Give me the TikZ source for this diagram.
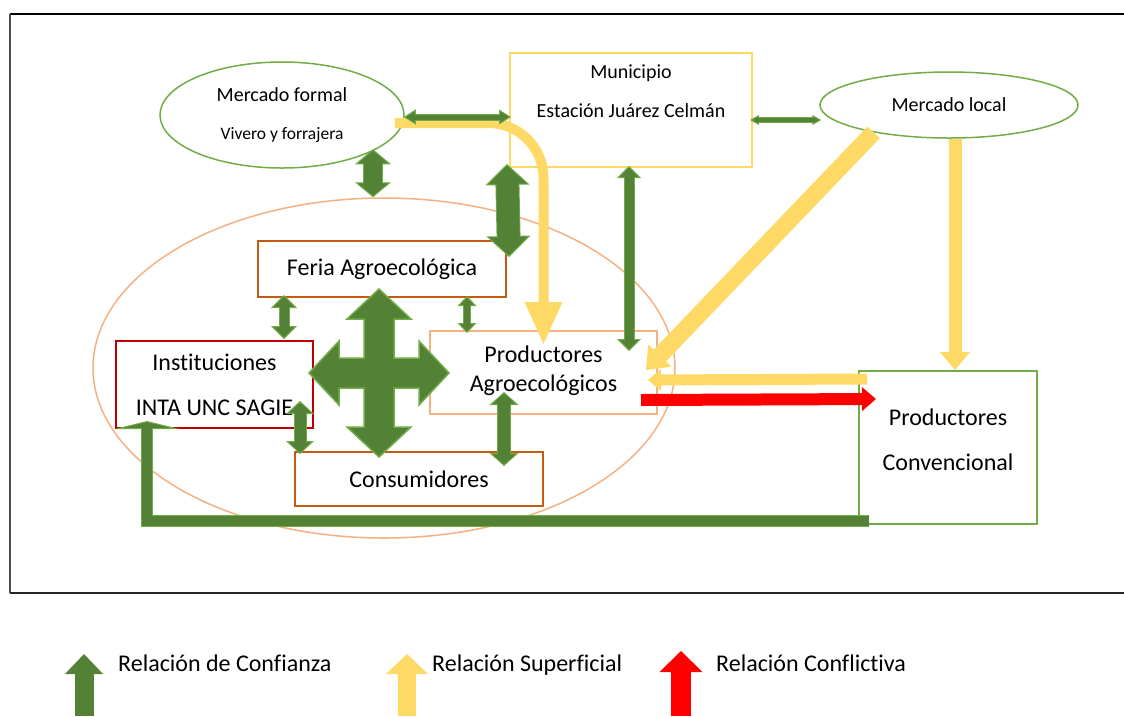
\documentclass[tikz,border=0pt]{standalone}
\usepackage{fontspec}
\setmainfont{Carlito}[Ligatures=NoCommon]
\usetikzlibrary{shapes.geometric,arrows.meta,calc,positioning}

\definecolor{dkgreen}{HTML}{538135}
\definecolor{ltgreen}{HTML}{70AD47}
\definecolor{softyellow}{HTML}{FFD966}
\definecolor{peach}{HTML}{F4B183}
\definecolor{rust}{HTML}{C55A11}
\definecolor{brick}{HTML}{C00000}

\tikzset{
  actor/.style={draw=#1, line width=2pt, inner sep=0pt, align=center,
    font=\fontsize{24}{29}\selectfont},
  market/.style={ellipse, draw=ltgreen, line width=1.5pt, inner sep=0pt, align=center},
  trust/.style n args={3}{draw=dkgreen, line width=#1,
    {Triangle[width=#2, length=#3, line width=1pt, color=ltgreen, fill=dkgreen]}-{Triangle[width=#2, length=#3, line width=1pt, color=ltgreen, fill=dkgreen]},
    preaction={draw=ltgreen, line width=#1+2pt, arrows=-, shorten <=#3-1pt, shorten >=#3-1pt},
    postaction={draw=dkgreen, line width=#1, arrows=-, shorten <=#3-2pt, shorten >=#3-2pt}},
  trustone/.style n args={3}{draw=dkgreen, line width=#1, line join=miter,
    -{Triangle[width=#2, length=#3, line width=1pt, color=ltgreen, fill=dkgreen]},
    preaction={draw=ltgreen, line width=#1+2pt, arrows=-, shorten >=#3-1pt},
    postaction={draw=dkgreen, line width=#1, arrows=-, shorten >=#3-2pt}},
  superficial/.style n args={3}{draw=softyellow, line width=#1,
    -{Triangle[width=#2, length=#3, line width=0pt]}},
  conflict/.style n args={3}{draw=red, line width=#1,
    -{Triangle[width=#2, length=#3, line width=0pt]}},
  legtext/.style={anchor=base west, inner sep=0pt, font=\fontsize{24}{29}\selectfont}
}

\begin{document}
\begin{tikzpicture}[x=1pt, y=-1pt]
  \useasboundingbox (0,0) rectangle (1124,716);

  % frame
  \draw[line width=1.2pt] (10,14) -- (1124,14);
  \draw[line width=1.5pt, black!70] (10,14) -- (10,593);
  \draw[line width=2.5pt, black!85] (10,593) -- (1124,593);

  % actors
  \node[ellipse, draw=peach, line width=1.5pt, minimum width=582pt, minimum height=340pt] (org) at (384,368) {};
  \node[market, minimum width=244pt, minimum height=106pt,
    font=\fontsize{20}{24}\selectfont] (mform) at (282,115)
    {Mercado formal\\[14pt]{\fontsize{17.5}{21}\selectfont Vivero y forrajera}};
  \node[market, minimum width=258pt, minimum height=66pt,
    font=\fontsize{20}{24}\selectfont] (mloc) at (949,105) {Mercado local};
  \node[actor=softyellow, minimum width=242pt, minimum height=114pt] (mun) at (631,110) {};
  \node[align=center, font=\fontsize{20}{39}\selectfont] (muntxt) at ($(mun.north)+(0,39)$)
    {Municipio\\Estación Juárez Celmán};
  \node[actor=rust, minimum width=248pt, minimum height=56pt] (feria) at (382,269) {Feria Agroecológica};
  \node[actor=brick, minimum width=197pt, minimum height=87pt,
    font=\fontsize{24}{45}\selectfont] (inst) at (214.5,384.5) {Instituciones\\INTA UNC SAGIE};
  \node[actor=peach, minimum width=227pt, minimum height=83pt] (prod) at (543.5,372.5) {};
  \node[align=center, font=\fontsize{24}{29}\selectfont] (prodtxt) at ($(prod.center)+(0,-2)$)
    {Productores\\Agroecológicos};
  \node[actor=rust, minimum width=248pt, minimum height=54pt] (cons) at (419,479) {Consumidores};
  \node[actor=ltgreen, minimum width=178pt, minimum height=153pt] (conv) at (948,447.5) {};
  \node[align=center, font=\fontsize{24}{45}\selectfont] (convtxt) at ($(conv.center)+(0,-8)$)
    {Productores\\Convencional};

  % superficial relations
  \draw[superficial={10pt}{38pt}{42pt}, rounded corners=55pt]
    ($(mform.east)+(-10,8)$) -| ($(prod.north)+(0,14)$);
  \draw[superficial={17pt}{32pt}{20pt}] (mloc.200) -- ($(prod.east)+(-12,-2.5)$);
  \draw[superficial={13pt}{30pt}{18pt}] ($(mloc.south)+(6,0)$) -- ($(mloc.south |- conv.north)+(6,0)$);
  \draw[superficial={11pt}{22pt}{13pt}] ($(conv.north west)+(9,9)$) -- ($(prod.east)+(-10,7.5)$);

  % conflict
  \draw[conflict={12pt}{24pt}{14pt}] ($(prod.east)+(-17,27.5)$) -- ($(conv.north west)+(18,29)$);

  % trust relations
  \draw[trust={5pt}{15pt}{12pt}] ($(mform.east)+(-1,2)$) -- ($(mun.west)+(2,7)$);
  \draw[trust={4pt}{10pt}{9pt}] ($(mun.east)+(-3,10)$) -- ($(mloc.west)+(2,15)$);
  \draw[trust={18pt}{36pt}{15pt}] ($(org.north)+(-11,-48)$) -- ($(org.north)+(-11,0)$);
  \draw[trust={22pt}{44pt}{21pt}] ($(mun.south west)+(-2,-4)$) -- ($(feria.north east)+(2,17)$);
  \draw[trust={9pt}{24pt}{12pt}] ($(mun.south)+(-2,-2)$) -- ($(mun.south |- prod.north)+(-2,21)$);
  \draw[trust={9pt}{26pt}{13pt}] ($(feria.south west)+(27,-3)$) -- ($(feria.south west)+(27,41)$);
  \draw[trust={6pt}{19pt}{10pt}] ($(feria.south east)+(-40,-2)$) -- ($(feria.south east)+(-40,35)$);
  \draw[trust={11pt}{28pt}{13pt}] ($(cons.north west)+(6,-50)$) -- ($(cons.north west)+(6,3)$);
  \draw[trust={12pt}{29pt}{13pt}] ($(cons.north east)+(-40,-59)$) -- ($(cons.north east)+(-40,15)$);
  \draw[trustone={10pt}{65pt}{8pt}] ($(conv.south west)+(11,-4)$) -| ($(inst.south west)+(32,-8)$);

  % four way arrow
  \coordinate (hub) at (379,373);
  \filldraw[fill=dkgreen, draw=ltgreen, line width=1.5pt, shift={(hub)}]
    (0,-84) -- (32,-54) -- (15,-54) -- (15,-15) -- (40,-15) -- (40,-32) -- (70,0)
    -- (40,32) -- (40,15) -- (15,15) -- (15,54) -- (32,54) -- (0,84)
    -- (-32,54) -- (-15,54) -- (-15,15) -- (-40,15) -- (-40,32) -- (-70,0)
    -- (-40,-32) -- (-40,-15) -- (-15,-15) -- (-15,-54) -- (-32,-54) -- cycle;

  % legend
  \node[legtext] (leg1) at (118,671) {Relación de Confianza};
  \node[legtext] (leg2) at (432,671) {Relación Superficial};
  \node[legtext] (leg3) at (716,671) {Relación Conflictiva};
  \draw[dkgreen, line width=19pt, -{Triangle[width=38pt, length=20pt, line width=0pt]}]
    ($(leg1.base west)+(-34,45)$) -- ($(leg1.base west)+(-34,-17)$);
  \draw[softyellow, line width=18pt, -{Triangle[width=42pt, length=20pt, line width=0pt]}]
    ($(leg2.base west)+(-25,45)$) -- ($(leg2.base west)+(-25,-17)$);
  \draw[red, line width=20pt, -{Triangle[width=43pt, length=21pt, line width=0pt]}]
    ($(leg3.base west)+(-35,45)$) -- ($(leg3.base west)+(-35,-20)$);
\end{tikzpicture}
\end{document}
